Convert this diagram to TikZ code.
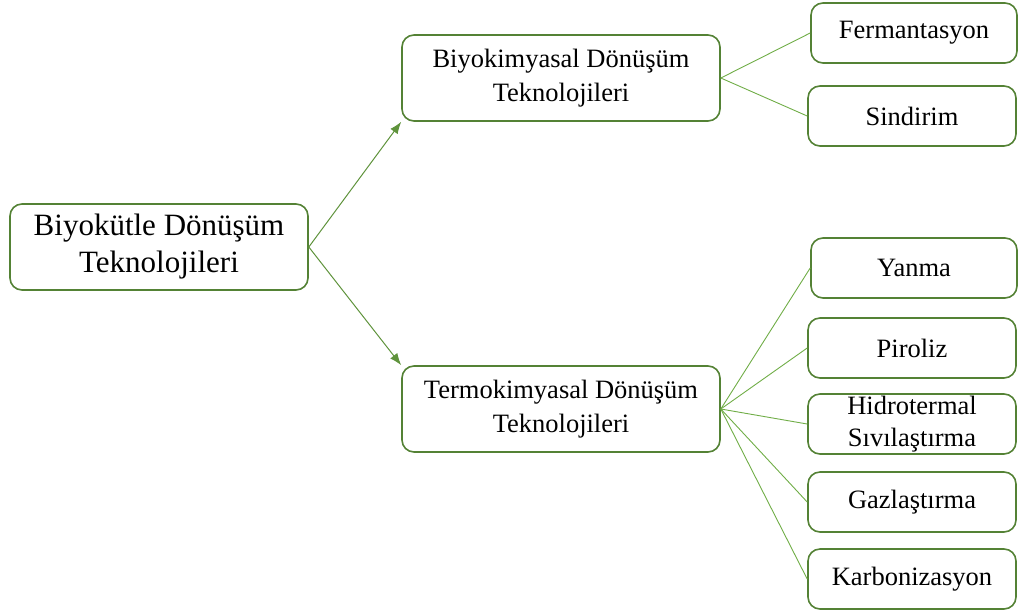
\documentclass[tikz,border=0pt]{standalone}
\usepackage{fontspec}
\setmainfont{Liberation Serif}
\usetikzlibrary{positioning, arrows.meta}

\definecolor{boxgreen}{RGB}{84,130,53}
\definecolor{linegreen}{RGB}{112,173,71}

\tikzset{
  box/.style={draw=boxgreen, line width=1.6pt, rounded corners=12pt, align=center, inner sep=0pt, fill=white},
  rootbox/.style={box, minimum width=298pt, minimum height=86pt, font=\fontsize{31}{37}\selectfont},
  midbox/.style={box, minimum width=318pt, minimum height=86pt, font=\fontsize{26.5}{34}\selectfont},
  leafbox/.style={box, minimum width=208pt, minimum height=60pt, font=\fontsize{26.5}{32}\selectfont},
  arrowline/.style={draw=linegreen!85!black, line width=1pt, -{Latex[length=12pt, width=9pt]}},
  thinline/.style={draw=linegreen, line width=0.9pt}
}

\begin{document}
\begin{tikzpicture}[x=1pt, y=-1pt]
  \useasboundingbox (0,0) rectangle (1019,614);

  \node[rootbox] (root) at (159, 247) {Biyokütle Dönüşüm\\Teknolojileri};
  \node[midbox] (bio) at (561, 78) {Biyokimyasal Dönüşüm\\Teknolojileri};
  \node[midbox] (termo) at (561, 409) {Termokimyasal Dönüşüm\\Teknolojileri};

  \node[leafbox, minimum width=206pt] (ferm) at (914, 33) {Fermantasyon};
  \node[leafbox] (sind) at (912, 116) {Sindirim};
  \node[leafbox, minimum width=206pt] (yanma) at (914, 268) {Yanma};
  \node[leafbox] (piro) at (912, 348) {Piroliz};
  \node[leafbox] (hidro) at (912, 424) {Hidrotermal\\Sıvılaştırma};
  \node[leafbox] (gaz) at (912, 502) {Gazlaştırma};
  \node[leafbox] (karb) at (912, 579) {Karbonizasyon};

  \draw[arrowline] (root.east) -- (bio.south west);
  \draw[arrowline] (root.east) -- (termo.north west);

  \draw[thinline] (bio.east) -- (ferm.west);
  \draw[thinline] (bio.east) -- (sind.west);

  \foreach \leaf in {yanma, piro, hidro, gaz, karb}
    \draw[thinline] (termo.east) -- (\leaf.west);
\end{tikzpicture}
\end{document}
